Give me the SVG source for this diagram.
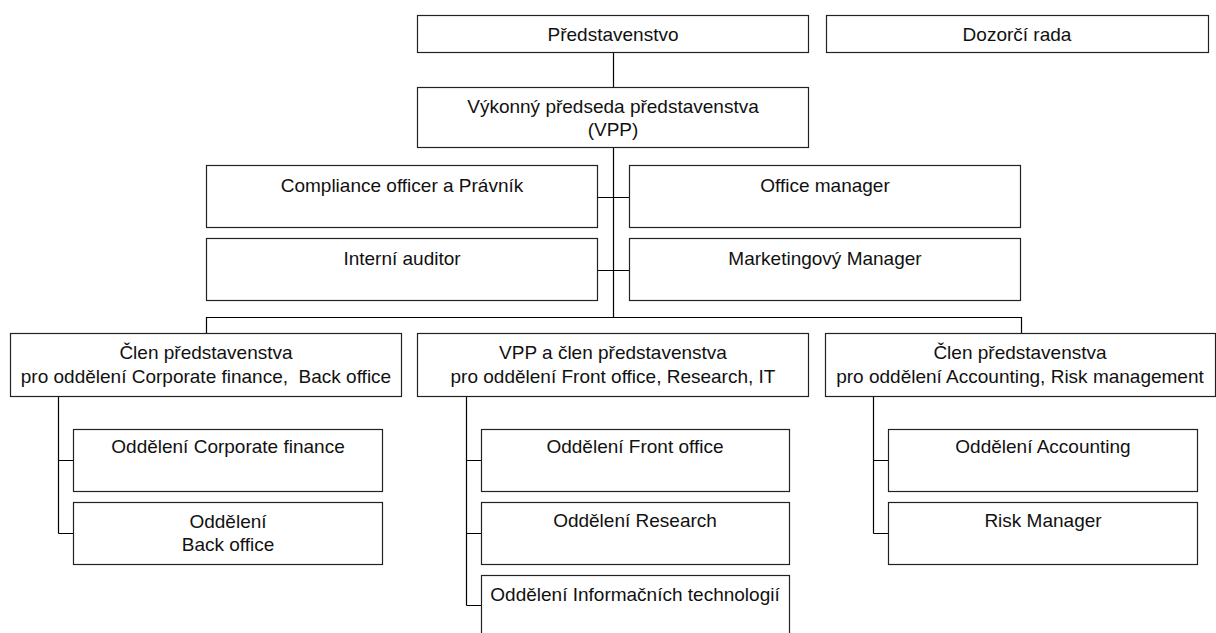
<svg xmlns="http://www.w3.org/2000/svg" width="1216" height="633" viewBox="0 0 1216 633">
<style>
rect{fill:#fff;stroke:#222;stroke-width:1.2}
text{font-family:"Liberation Sans",Arial,sans-serif;font-size:19px;fill:#111;text-anchor:middle;white-space:pre}
.c path{fill:none;stroke:#000;stroke-width:1.2}
</style>
<rect x="0" y="0" width="1216" height="633" style="fill:#fff;stroke:none"/>
<g class="c" id="connectors">
<path d="M613.5 52V87M613.5 147V317.5M597 197.5H629M597 270.5H629M206.5 333V317.5H1021.5V333"/>
<path d="M58.5 396V533.5M58.5 460.5H73M58.5 533.5H73"/>
<path d="M466.5 396V605.5M466.5 460.5H481M466.5 533.5H481M466.5 605.5H481"/>
<path d="M873.5 396V533.5M873.5 460.5H888M873.5 533.5H888"/>
</g>
<g id="n-predstavenstvo"><rect x="417.5" y="15.5" width="391" height="37"/><text x="613" y="41">Představenstvo</text></g>
<g id="n-dozorci"><rect x="826.5" y="15.5" width="382" height="37"/><text x="1017" y="41">Dozorčí rada</text></g>
<g id="n-vpp"><rect x="417.5" y="87.5" width="391" height="60"/><text x="613" y="113">Výkonný předseda představenstva</text><text x="613" y="136">(VPP)</text></g>
<g id="n-compliance"><rect x="206.5" y="165.5" width="391" height="62"/><text x="402" y="192">Compliance officer a Právník</text></g>
<g id="n-office"><rect x="629.5" y="165.5" width="391" height="62"/><text x="825" y="192">Office manager</text></g>
<g id="n-auditor"><rect x="206.5" y="238.5" width="391" height="62"/><text x="402" y="265">Interní auditor</text></g>
<g id="n-marketing"><rect x="629.5" y="238.5" width="391" height="62"/><text x="825" y="265">Marketingový Manager</text></g>
<g id="n-clen1"><rect x="10.5" y="333.5" width="391" height="63"/><text x="206" y="359">Člen představenstva</text><text x="206" y="383">pro oddělení Corporate finance,  Back office</text></g>
<g id="n-clen2"><rect x="417.5" y="333.5" width="391" height="63"/><text x="613" y="359">VPP a člen představenstva</text><text x="613" y="383">pro oddělení Front office, Research, IT</text></g>
<g id="n-clen3"><rect x="825.5" y="333.5" width="390" height="63"/><text x="1020" y="359">Člen představenstva</text><text x="1020" y="383">pro oddělení Accounting, Risk management</text></g>
<g id="n-corpfin"><rect x="73.5" y="429.5" width="309" height="62"/><text x="228" y="453">Oddělení Corporate finance</text></g>
<g id="n-backoffice"><rect x="73.5" y="502.5" width="309" height="62"/><text x="228" y="528">Oddělení</text><text x="228" y="551">Back office</text></g>
<g id="n-frontoffice"><rect x="481.5" y="429.5" width="308" height="62"/><text x="635" y="453">Oddělení Front office</text></g>
<g id="n-research"><rect x="481.5" y="502.5" width="308" height="62"/><text x="635" y="527">Oddělení Research</text></g>
<g id="n-it"><rect x="481.5" y="575.5" width="308" height="70"/><text x="635" y="601">Oddělení Informačních technologií</text></g>
<g id="n-accounting"><rect x="888.5" y="429.5" width="309" height="62"/><text x="1043" y="453">Oddělení Accounting</text></g>
<g id="n-risk"><rect x="888.5" y="502.5" width="309" height="62"/><text x="1043" y="527">Risk Manager</text></g>
</svg>
